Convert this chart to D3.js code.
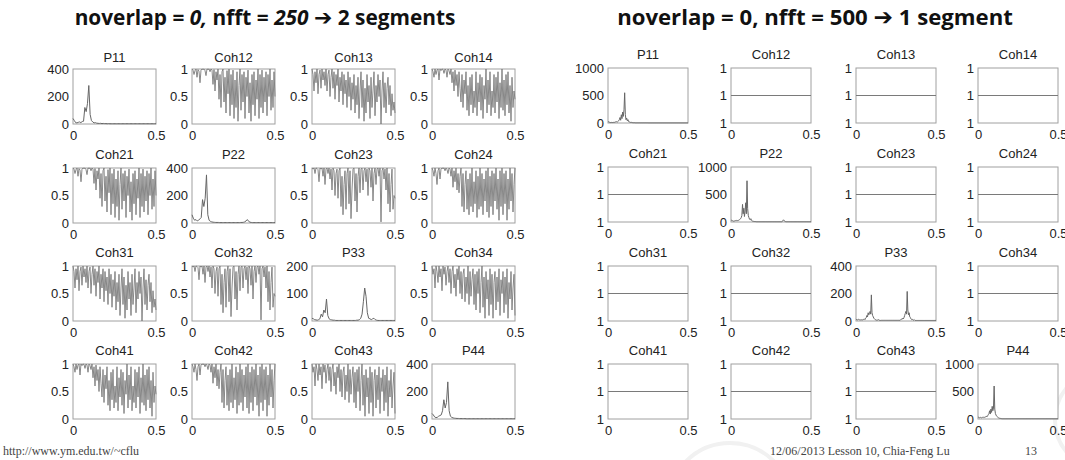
<!DOCTYPE html>
<html><head><meta charset="utf-8">
<script src="https://cdn.jsdelivr.net/npm/d3@7"></script>
<style>body{margin:0;background:#fff;} svg{display:block}</style>
</head><body>
<svg id="c" width="1065" height="460"></svg>
<script>
// ---------- DATA ----------
const panelNames = [["P11","Coh12","Coh13","Coh14"],["Coh21","P22","Coh23","Coh24"],["Coh31","Coh32","P33","Coh34"],["Coh41","Coh42","Coh43","P44"]];
const xTicks = [0, 0.5];

// nfft = 250 (2 segments): coherence estimates, 0..0.5 normalized frequency
const coh12 = [1,0.98,0.9,0.97,1,0.85,0.99,0.96,0.75,0.98,1,0.99,1,0.97,0.88,1,0.99,
  1,0.95,1,0.98,0.72,0.99,0.6,0.95,0.8,
  1,0.45,0.9,0.3,0.95,1,0.4,0.85,
  0.2,0.97,0.55,1,0.15,0.9,0.35,0.98,
  0.1,0.8,0.3,0.95,0.05,0.7,1,0.25,
  0.9,0.4,0.95,0.1,0.85,0.5,0.98,0.2,
  0.75,0.05,0.9,0.35,0.95,0.15,0.8,0.45,
  1,0.1,0.9,0.3,0.98,0.2,0.85,0.4,
  0.95,0.15,0.9,0.5,1,0.25,0.8,0.3,0.95,0.5];
const coh13 = [1,0.9,0.6,0.95,0.75,1,0.55,0.9,0.98,0.65,1,0.8,0.95,0.7,1,0.6,0.9,
  0.98,0.5,0.85,1,0.65,0.95,0.45,0.9,0.7,
  1,0.4,0.85,0.6,0.95,0.35,0.9,0.55,
  0.8,0.3,0.95,0.5,0.85,0.25,0.75,0.45,
  0.9,0.2,0.7,0.35,0.85,0.1,0.6,0.95,
  0.3,0.8,0.05,0.65,0.2,0.9,0.4,0.7,
  0.1,0.85,0.3,0.6,0.95,0.15,0.7,0.4,
  0.9,0.5,0.8,0.0,0.6,0.95,0.3,0.75,
  0.2,0.65,0.85,0.35,0.7,0.15,0.55,0.25,0.4,0.2];
const coh14 = [1,0.95,0.85,1,0.9,0.98,1,0.8,1,0.97,1,0.99,0.92,1,0.98,0.85,1,
  0.97,0.9,1,0.75,0.95,0.6,0.98,0.7,0.9,
  0.5,0.95,0.65,0.4,0.9,0.3,0.8,0.55,
  0.95,0.25,0.7,0.15,0.85,0.35,0.9,0.2,
  0.6,0.3,0.95,0.15,0.75,0.4,0.9,0.25,
  0.85,0.1,0.7,0.45,1,0.2,0.8,0.35,
  0.95,0.15,0.6,0.3,0.9,0.2,0.85,0.4,
  0.95,0.1,0.75,0.3,1,0.25,0.8,0.15,
  0.9,0.35,0.95,0.2,0.7,0.05,0.85,0.3,0.6,0.45];
const coh23 = [1,0.98,1,0.9,1,0.99,0.97,0.75,1,0.98,1,0.85,1,0.7,0.98,1,0.9,
  1,0.8,0.98,0.6,1,0.95,0.5,0.9,0.98,
  0.45,0.95,1,0.3,0.85,0.15,0.7,0.95,
  0.25,0.9,1,0.35,0.95,0.08,0.6,0.98,
  1,0.4,0.9,0.2,0.85,1,0.55,0.98,
  1,0.6,0.95,1,0.75,0.98,0.5,1,
  0.95,0.65,1,0.4,0.9,1,0.7,0.98,
  1,0.85,1,0.02,0.95,1,0.8,0.98,
  0.6,1,0.35,0.9,0.2,0.7,0.98,0.25,0.5,0.45];
const coh24 = [1,0.95,0.85,1,0.9,0.7,0.95,1,0.8,0.98,1,0.99,1,0.95,1,0.97,0.9,
  1,0.98,0.85,1,0.65,0.95,0.75,1,0.6,
  0.9,0.55,0.85,1,0.3,0.9,0.2,0.7,
  0.95,0.25,0.8,0.15,0.9,0.3,1,0.2,
  0.75,0.35,0.95,0.1,0.85,0.25,1,0.3,
  0.9,0.15,0.8,0.4,0.95,0.2,1,0.1,
  0.85,0.3,0.95,0.15,0.9,0.4,1,0.25,
  0.8,0.05,0.95,0.3,1,0.15,0.9,0.35,
  0.95,0.05,0.8,0.25,1,0.4,0.9,0.2,0.7,1];
const coh34 = [1,0.85,0.95,0.6,1,0.9,0.7,1,0.8,0.95,0.55,1,0.85,0.98,0.65,0.9,1,
  0.7,0.95,0.5,0.9,1,0.6,0.85,0.45,0.95,
  0.75,1,0.5,0.9,0.4,0.85,0.95,0.35,
  0.8,0.5,1,0.3,0.9,0.45,0.75,0.95,
  0.3,0.85,0.2,0.9,0.5,0.95,0.15,0.7,
  1,0.25,0.8,0.05,0.9,0.4,0.75,0.1,
  0.95,0.3,0.85,0.05,0.7,0.9,0.2,0.8,
  0.35,0.95,0.1,0.75,0.5,0.9,0.15,0.8,
  0.3,0.95,0.05,0.7,0.4,0.9,0.2,0.6,0.85,0.1];

// nfft = 250: power spectra
const p11_250 = [40,25,10,8,12,15,10,18,20,120,90,150,280,70,25,15,8,10,6,5,4,5,3,4,3,3,2,3,2,2,2,2,2,2,2,2,2,2,2,2,2,2,2,2,2,2,2,2,2,2,2,2,2,2,2,2,2,2,2,2,2,2,2,2];
const p22_250 = [60,35,20,25,15,20,30,40,170,120,180,350,60,20,12,8,6,5,4,4,4,3,3,3,3,3,3,3,3,3,3,3,3,3,3,3,3,4,4,5,8,15,25,12,6,4,3,3,3,3,3,3,3,3,3,3,3,3,3,3,3,3,3,3];
const p33_250 = [10,8,5,4,3,5,8,25,15,40,30,80,20,8,5,4,3,3,2,2,2,2,2,2,2,2,2,2,2,2,2,2,2,2,3,3,5,10,25,70,120,90,30,10,8,5,8,10,5,3,2,2,2,2,2,2,2,2,2,2,2,2,2,2];
const p44_250 = [40,30,15,10,12,20,25,30,60,140,80,120,270,60,20,12,8,6,5,4,4,3,3,3,3,3,2,2,2,2,2,2,2,2,2,2,2,2,2,2,2,2,2,2,2,2,2,2,2,2,2,2,2,2,2,2,2,2,2,2,2,2,2,2];

// nfft = 500 (1 segment): power spectra; coherence is identically 1
const p11_500 = [30,20,15,10,8,10,12,8,10,15,12,20,15,25,18,30,40,60,100,50,150,80,200,120,240,550,150,60,90,40,60,25,20,15,10,12,8,6,5,4,5,
  3,3,3,3,3,3,3,3,3,3,3,3,3,3,3,3,3,3,3,2,2,2,2,2,2,2,2,2,2,2,2,2,2,2,2,2,2,2,2,2,2,2,2,2,2,2,2,2,2,2,2,2,2,2,2,2,2,2,2,2,2,2,2,2,2,2,2,2,2,2,2,2,2,2,2,2,2,2,2,2];
const p22_500 = [40,30,25,20,15,20,18,25,20,30,25,35,30,40,50,60,80,120,320,150,250,100,200,350,150,750,250,120,80,50,40,60,30,20,15,12,10,8,8,6,
  5,5,5,5,5,5,5,5,5,5,5,5,5,5,5,5,5,5,5,5,5,5,5,5,5,5,5,5,5,5,5,5,5,5,5,5,5,5,5,5,10,20,40,25,15,8,5,
  5,5,5,5,5,5,5,5,5,5,5,5,5,5,5,5,5,5,5,5,5,5,5,5,5,5,5,5,5,5,5,5,5,5,5,5,5,5,5];
const p33_500 = [15,10,8,10,12,8,10,8,6,10,8,10,12,15,10,20,25,40,30,60,45,55,70,50,190,60,40,30,20,15,10,8,6,5,8,10,6,5,4,5,
  5,5,5,5,5,5,5,5,5,5,5,5,5,5,5,5,5,5,5,5,5,5,5,5,5,5,5,5,5,5,10,15,12,20,15,25,40,55,70,50,215,80,45,60,30,25,15,10,12,8,6,10,5,4,
  4,4,4,4,4,4,4,4,4,4,4,4,4,4,4,4,4,4,4,4,4,4,4,4,4,4,4,4,4,4,4,4];
const p44_500 = [40,30,25,20,30,25,20,30,25,35,30,40,35,50,40,60,80,100,150,90,180,120,230,150,200,600,180,100,70,50,40,30,20,15,12,10,8,
  5,5,5,5,5,5,5,5,5,5,5,5,5,5,5,5,5,5,5,5,5,5,5,5,5,5,5,5,5,5,5,5,5,5,5,5,5,5,5,5,5,5,5,5,5,5,5,5,5,5,5,5,5,5,5,5,5,5,5,5,5,5,5,5,
  5,5,5,5,5,5,5,5,5,5,5,5,5,5,5,5,5,5,5,5,5,5,5,5];
const cohOne = [1, 1];

const ticksPow400 = [0,200,400];
const ticksPow200 = [0,100,200];
const ticksPow1000 = [0,500,1000];
const ticksCoh = [0,0.5,1];
const ticksCohOne = [0.999,1,1.001];

// ---------- LAYOUT ----------
const svg = d3.select("#c");
const grids = [
  { cols:[73,192,312,432], rows:[69,168,266,364], w:83, h:55, tOff:[7,9,9,9],
    series:[[p11_250,coh12,coh13,coh14],[coh12,p22_250,coh23,coh24],[coh13,coh23,p33_250,coh34],[coh14,coh24,coh34,p44_250]],
    ticks:[[ticksPow400,ticksCoh,ticksCoh,ticksCoh],[ticksCoh,ticksPow400,ticksCoh,ticksCoh],[ticksCoh,ticksCoh,ticksPow200,ticksCoh],[ticksCoh,ticksCoh,ticksCoh,ticksPow400]] },
  { cols:[608,731,856,978], rows:[68,167,266,364], w:80, h:55, tOff:[9,9,9,9],
    series:[[p11_500,cohOne,cohOne,cohOne],[cohOne,p22_500,cohOne,cohOne],[cohOne,cohOne,p33_500,cohOne],[cohOne,cohOne,cohOne,p44_500]],
    ticks:[[ticksPow1000,ticksCohOne,ticksCohOne,ticksCohOne],[ticksCohOne,ticksPow1000,ticksCohOne,ticksCohOne],[ticksCohOne,ticksCohOne,ticksPow400,ticksCohOne],[ticksCohOne,ticksCohOne,ticksCohOne,ticksPow1000]] }
];

// faint slide decorations
const deco = svg.append("g").attr("fill","none").attr("stroke","#f1f1f1").attr("stroke-width",4);
deco.append("circle").attr("cx",730).attr("cy",505).attr("r",62);
deco.append("circle").attr("cx",1105).attr("cy",420).attr("r",50);

const fontAx = "'Liberation Sans', Arial, sans-serif";

grids.forEach(G => {
  G.rows.forEach((top, r) => {
    G.cols.forEach((left, c) => {
      const data = G.series[r][c];
      const tv = G.ticks[r][c];
      const g = svg.append("g").attr("transform", `translate(${left},${top})`);
      const x = d3.scaleLinear().domain([0,0.5]).range([0,G.w]);
      const y = d3.scaleLinear().domain([tv[0], tv[tv.length-1]]).range([G.h,0]);
      const idx = d3.scaleLinear().domain([0,data.length-1]).range([0,0.5]);
      const isOne = tv === ticksCohOne;
      const isCoh = tv === ticksCoh;
      g.append("rect").attr("x",0).attr("y",0).attr("width",G.w).attr("height",G.h)
        .attr("fill","#fff").attr("stroke","#a0a0a0").attr("stroke-width",1);
      const line = d3.line().x((d,i)=>x(idx(i))).y(d=>y(d));
      g.append("path").datum(data).attr("d",line).attr("fill","none")
        .attr("stroke", isOne ? "#7a7a7a" : (isCoh ? "#7c7c7c" : "#666"))
        .attr("stroke-width", isCoh ? 0.9 : 1);
      const ya = d3.axisLeft(y).tickValues(tv).tickSize(0).tickPadding(4)
        .tickFormat(d => isOne ? "1" : String(d));
      const yg = g.append("g").call(ya);
      const xa = d3.axisBottom(x).tickValues(xTicks).tickSize(0).tickPadding(7).tickFormat(d=>String(d));
      const xg = g.append("g").attr("transform",`translate(0,${G.h})`).call(xa);
      [yg,xg].forEach(a => {
        a.select(".domain").remove();
        a.selectAll("text").attr("font-family",fontAx).attr("font-size",13).attr("fill","#222");
      });
      g.append("text").attr("x",G.w/2).attr("y",-G.tOff[r]).attr("text-anchor","middle")
        .attr("font-family",fontAx).attr("font-size",13).attr("fill","#222")
        .text(panelNames[r][c]);
    });
  });
});

// ---------- HEADINGS ----------
function heading(cx, target, parts) {
  const t = svg.append("text").attr("x",cx).attr("y",25).attr("text-anchor","middle")
    .attr("font-family","'Open Sans', 'Noto Sans', sans-serif").attr("font-weight",700)
    .attr("font-size",20).attr("fill","#111");
  parts.forEach(p => {
    const s = t.append("tspan").text(p.t);
    if (p.i) s.attr("font-style","italic");
    if (p.a) s.attr("font-family","'DejaVu Sans', sans-serif").attr("font-size","1.05em");
  });
  const w = t.node().getComputedTextLength();
  t.attr("font-size", 20 * target / w);
}
heading(265, 381, [{t:"noverlap = "},{t:"0,",i:1},{t:" nfft = "},{t:"250",i:1},{t:" "},{t:"➔",a:1},{t:" 2 segments"}]);
heading(815, 396, [{t:"noverlap = 0, nfft = 500 "},{t:"➔",a:1},{t:" 1 segment"}]);

// ---------- FOOTER ----------
const ff = "'Liberation Serif', 'Times New Roman', serif";
svg.append("text").attr("x",3).attr("y",455).attr("font-family",ff).attr("font-size",12).attr("fill","#444")
  .text("http://www.ym.edu.tw/~cflu");
svg.append("text").attr("x",770).attr("y",455).attr("font-family",ff).attr("font-size",12).attr("fill","#444")
  .text("12/06/2013 Lesson 10, Chia-Feng Lu");
svg.append("text").attr("x",1025).attr("y",455).attr("font-family",ff).attr("font-size",12).attr("fill","#444")
  .text("13");
</script>
</body></html>
